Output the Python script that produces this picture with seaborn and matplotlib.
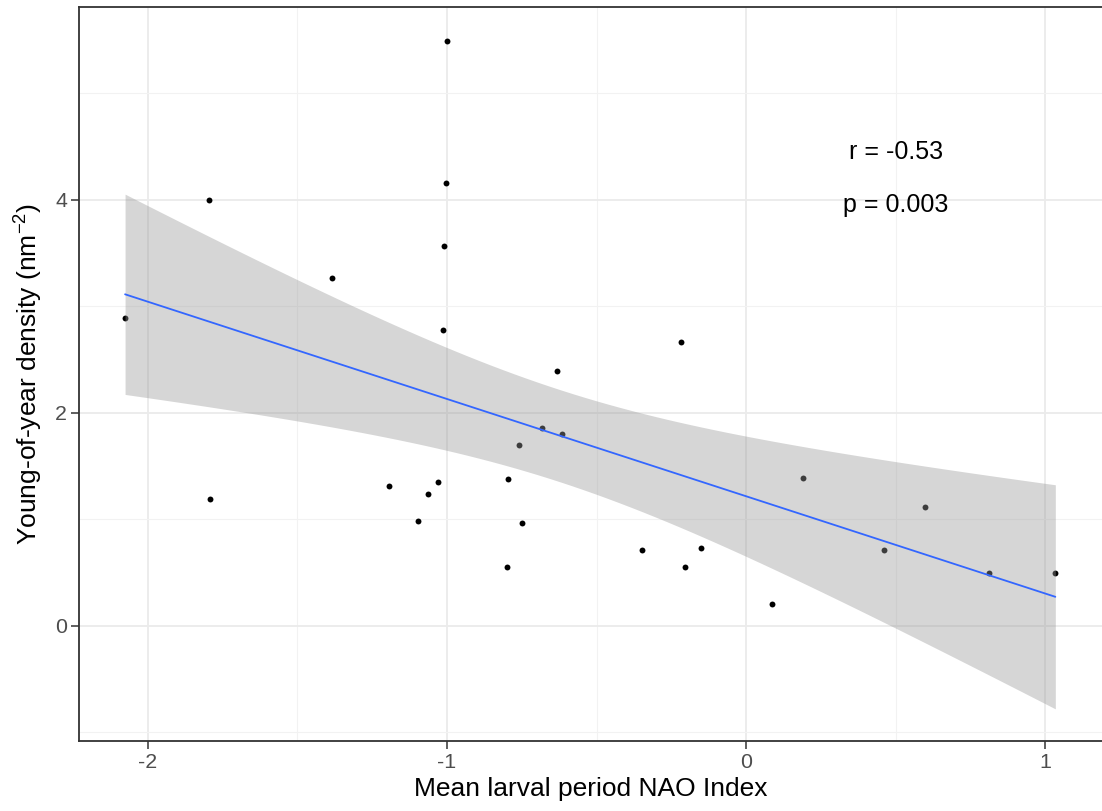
import numpy as np
import pandas as pd
import matplotlib
matplotlib.use("Agg")
import matplotlib.pyplot as plt
import seaborn as sns

# Mean NAO index over the larval period and young-of-year density per year
nao_index = [-0.999, -1.004, -1.797, -1.009, -1.385, -2.076, -1.015, -0.634,
             -0.681, -0.615, -0.759, -0.797, -1.194, -1.031, -1.063, -1.792,
             -1.097, -0.750, -0.800, -0.218, 0.189, 0.599, -0.350, -0.150,
             -0.205, 0.461, 0.812, 1.033, 0.085]
yoy_density = [5.49, 4.16, 4.00, 3.57, 3.27, 2.89, 2.78, 2.39,
               1.86, 1.80, 1.70, 1.38, 1.31, 1.35, 1.24, 1.19,
               0.99, 0.97, 0.55, 2.67, 1.39, 1.12, 0.71, 0.73,
               0.55, 0.71, 0.50, 0.50, 0.21]
x_ticks = [-2, -1, 0, 1]
y_ticks = [0, 2, 4]
stat_labels = ["r = -0.53", "p = 0.003"]

df = pd.DataFrame({"nao": nao_index, "density": yoy_density})

# Ordinary least squares fit with a 95% confidence band
x = df["nao"].to_numpy()
y = df["density"].to_numpy()
n = len(x)
slope, intercept = np.polyfit(x, y, 1)
resid = y - (intercept + slope * x)
s_err = np.sqrt(np.sum(resid ** 2) / (n - 2))
t_crit = 2.0518  # t(0.975, df=27)
xs = np.linspace(x.min(), x.max(), 80)
fit = intercept + slope * xs
half = t_crit * s_err * np.sqrt(1 / n + (xs - x.mean()) ** 2 / np.sum((x - x.mean()) ** 2))
fit_df = pd.DataFrame({"nao": xs, "fit": fit})

sns.set_theme(style="white")
plt.rcParams["font.family"] = ["Liberation Sans", "DejaVu Sans"]
plt.rcParams["mathtext.fontset"] = "custom"
plt.rcParams["mathtext.rm"] = "Liberation Sans"
plt.rcParams["mathtext.it"] = "Liberation Sans:italic"

fig = plt.figure(figsize=(11.02, 8.11), dpi=100)
ax = fig.add_axes([79 / 1102, 1 - 741 / 811, 1 - 79 / 1102, (741 - 7) / 811])

sns.scatterplot(data=df, x="nao", y="density", ax=ax, color="black",
                s=18, linewidth=0, zorder=3)
ax.fill_between(xs, fit - half, fit + half, color="#999999", alpha=0.4,
                linewidth=0, zorder=4)
sns.lineplot(data=fit_df, x="nao", y="fit", ax=ax, color="#3366FF",
             linewidth=1.3, zorder=5)

ax.set_xlim(-2.230, 1.189)
ax.set_ylim(-1.080, 5.812)
ax.set_xticks(x_ticks)
ax.set_xticklabels([str(v) for v in x_ticks])
ax.set_yticks(y_ticks)
ax.set_yticklabels([str(v) for v in y_ticks])
ax.set_xticks([-1.5, -0.5, 0.5], minor=True)
ax.set_yticks([-1, 1, 3, 5], minor=True)

ax.grid(which="major", color="#EBEBEB", linewidth=1.3, zorder=0)
ax.grid(which="minor", color="#F2F2F2", linewidth=0.8, zorder=0)
ax.set_axisbelow(True)

for side in ["left", "bottom", "top"]:
    ax.spines[side].set_visible(True)
    ax.spines[side].set_color("#333333")
    ax.spines[side].set_linewidth(1.3)
ax.spines["right"].set_visible(False)

ax.tick_params(which="major", direction="out", length=5.5, width=1.1,
               color="#333333", labelcolor="#4D4D4D", labelsize=15.4, pad=3,
               bottom=True, left=True)
ax.tick_params(which="minor", length=0)

ax.set_xlabel("Mean larval period NAO Index", fontsize=19, color="black", labelpad=4)
ax.set_ylabel("Young-of-year density (nm$^{-2}$)", fontsize=19, color="black", labelpad=7)

ax.text(0.5, 4.45, stat_labels[0], fontsize=18, ha="center", va="center", color="black")
ax.text(0.5, 3.95, stat_labels[1], fontsize=18, ha="center", va="center", color="black")

fig.savefig("out.png", dpi=100)
